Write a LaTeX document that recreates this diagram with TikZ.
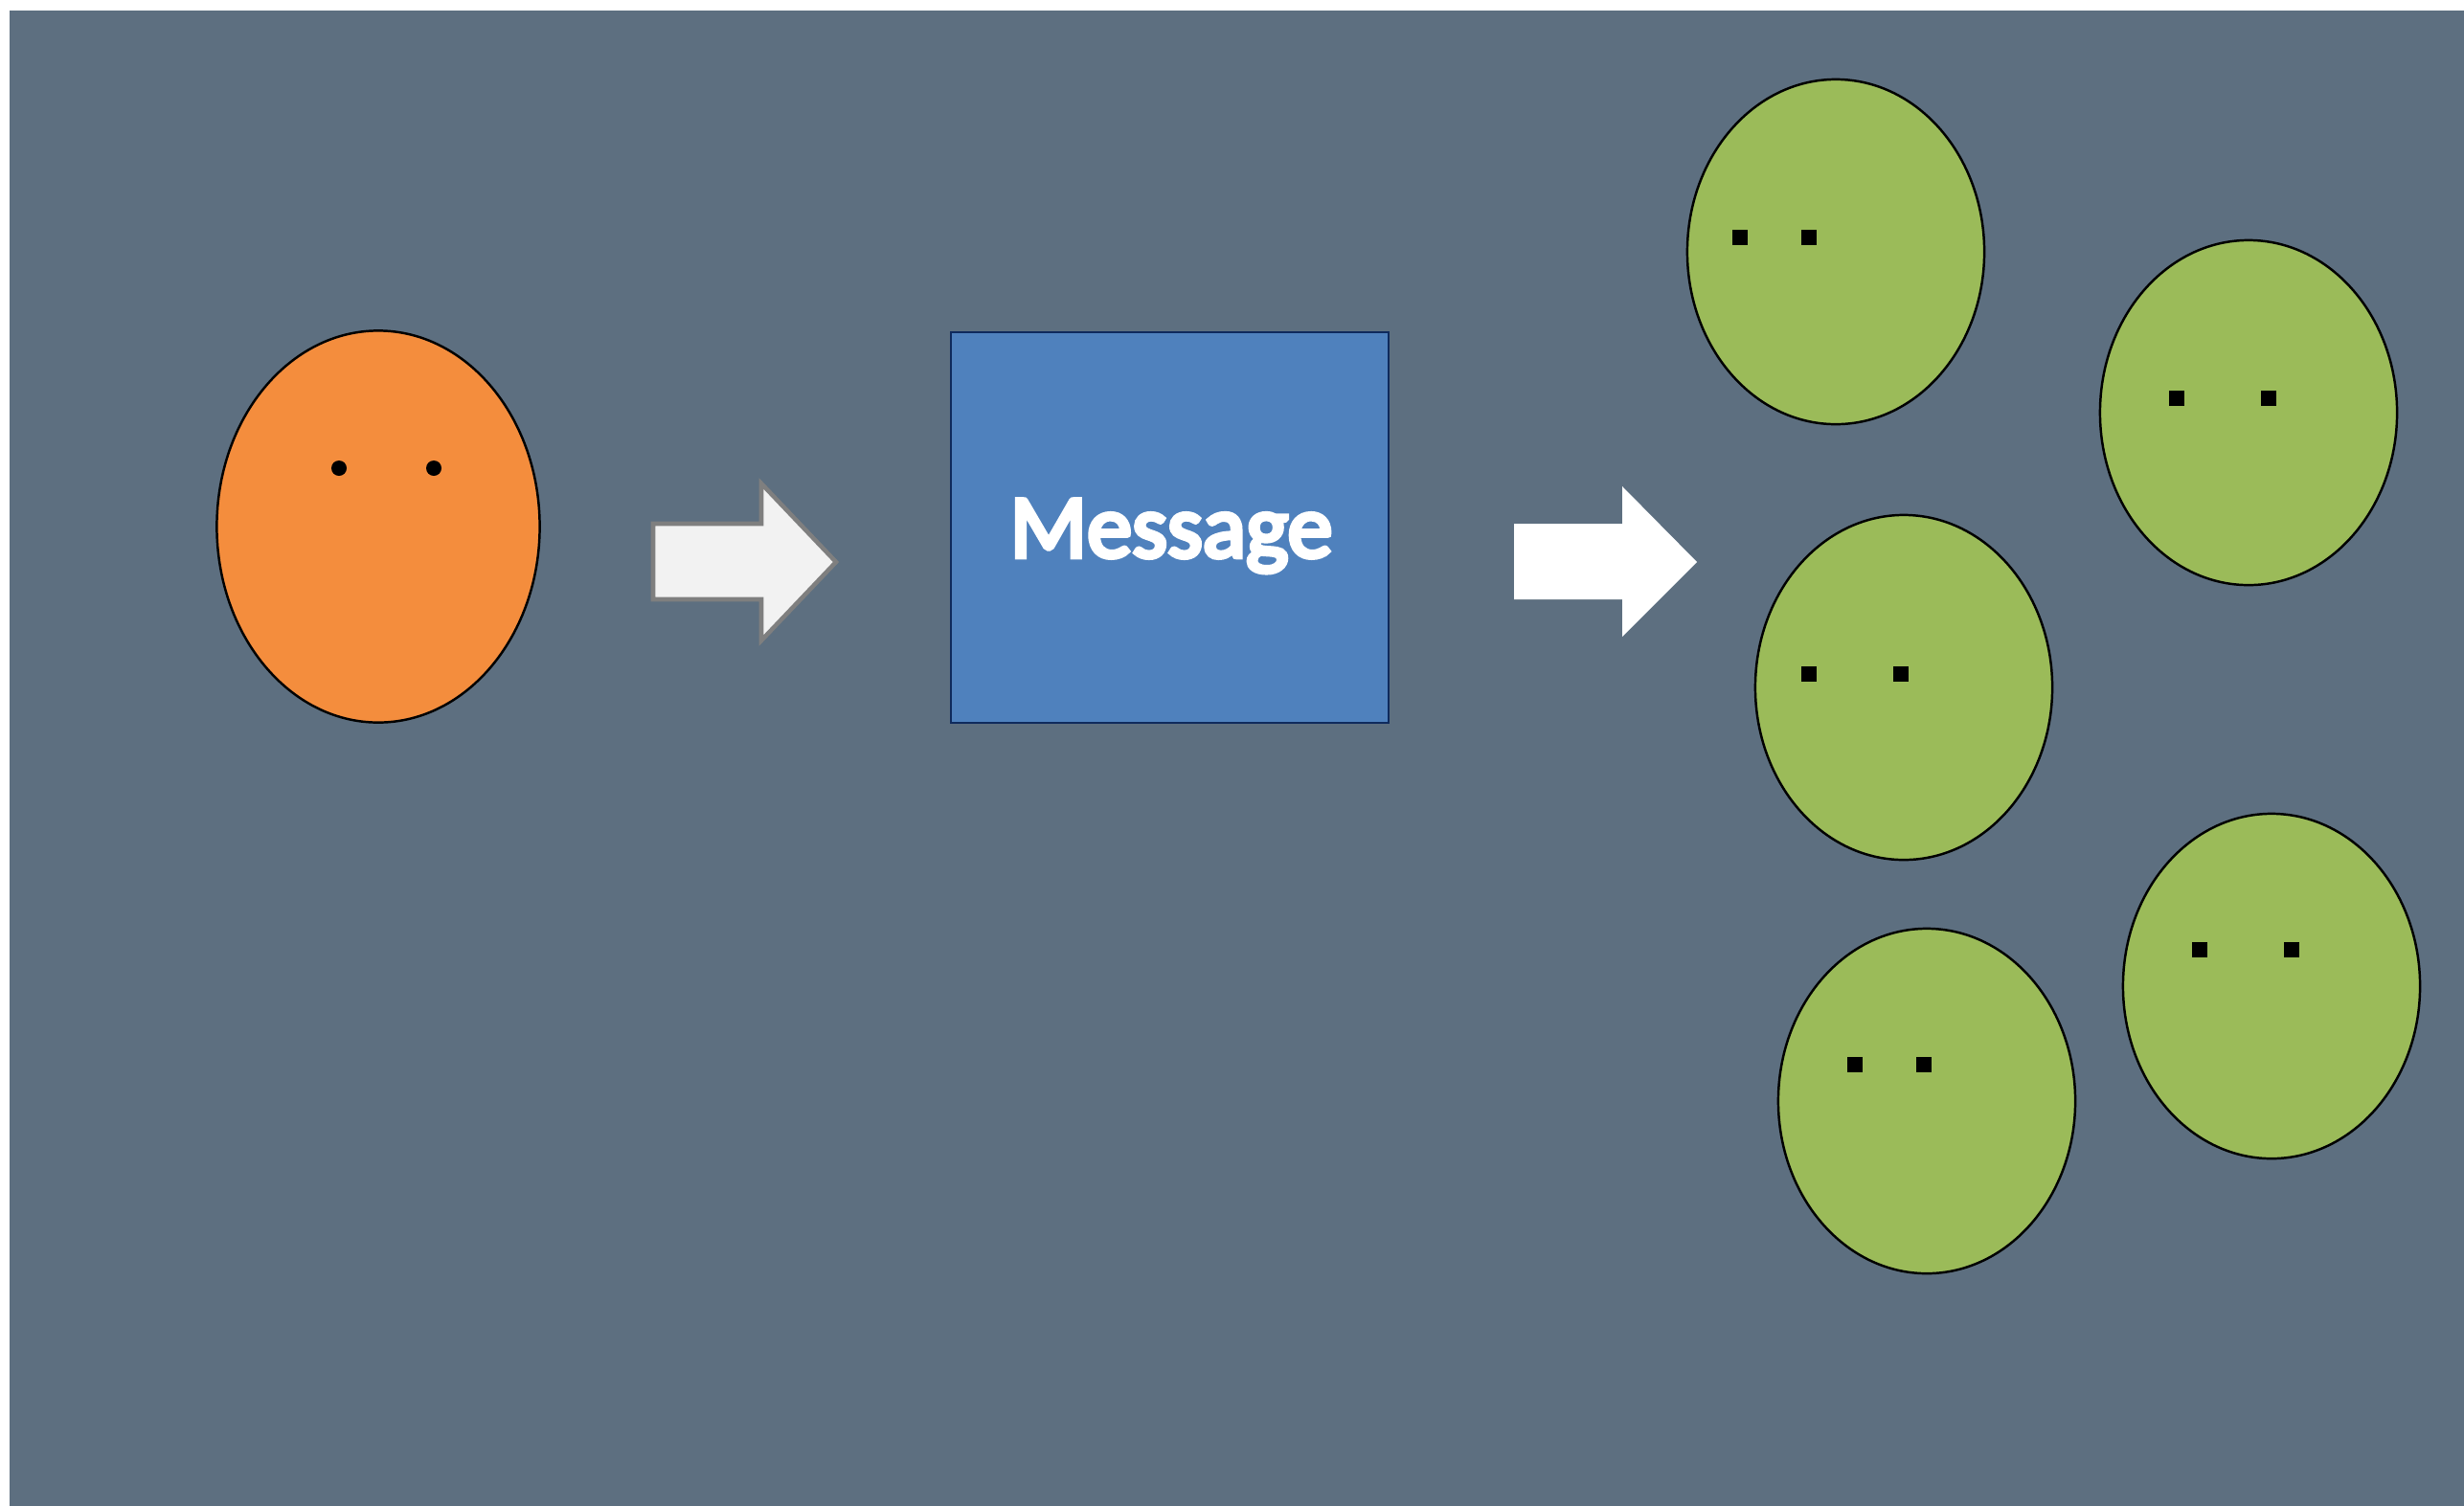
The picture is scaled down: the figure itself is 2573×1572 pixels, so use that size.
\documentclass[tikz,border=0pt]{standalone}
\usepackage{fontspec}
\setmainfont{Carlito}
\newfontfamily\msgfont{Carlito}[FakeBold=5]
\usetikzlibrary{shapes.geometric}
\definecolor{bgc}{HTML}{5D6F80}
\definecolor{orangeface}{HTML}{F48D3D}
\definecolor{greenface}{HTML}{9BBB59}
\definecolor{msgblue}{HTML}{4F81BD}
\definecolor{msgedge}{HTML}{0F2A5C}
\definecolor{arrowfill}{HTML}{F2F2F2}
\definecolor{arrowedge}{HTML}{7F7F7F}
\tikzset{
  face/.style={ellipse, draw=black, line width=0.7pt, inner sep=0pt, minimum width=3.1cm, minimum height=3.6cm, fill=greenface},
  roundeye/.style={circle, fill=black, inner sep=0pt, minimum size=0.16cm},
  squareeye/.style={rectangle, fill=black, inner sep=0pt, minimum size=0.155cm},
}
\begin{document}
\begin{tikzpicture}[x=0.01cm, y=-0.01cm]
\useasboundingbox (0,0) rectangle (2573,1572);
\fill[white] (0,0) rectangle (2573,1572);
\fill[bgc] (10,11) rectangle (2620,1620);

% sender
\node[face, fill=orangeface, minimum width=3.37cm, minimum height=4.09cm] (sender) at (395,550) {};
\node[roundeye] (se1) at (354,489) {};
\node[roundeye] (se2) at (453,489) {};

% arrow 1
\draw[fill=arrowfill, draw=arrowedge, line width=1.3pt, line join=miter]
  (682,547) -- (795,547) -- (795,505) -- (873,587) -- (795,669) -- (795,626) -- (682,626) -- cycle;

% message box
\node[rectangle, draw=msgedge, line width=0.6pt, fill=msgblue, minimum width=4.57cm, minimum height=4.08cm, inner sep=0pt] (msg) at (1221.5,551) {};
\node[anchor=base, text=white, font=\msgfont\fontsize{26.8pt}{30pt}\selectfont, inner sep=0pt] (msgtext) at (1223,582) {Message};

% arrow 2
\fill[white]
  (1581,547) -- (1694,547) -- (1694,508) -- (1772,587) -- (1694,665) -- (1694,626) -- (1581,626) -- cycle;

% receivers
\node[face] (r1) at (1917,263) {};
\node[squareeye] (r1a) at (1817,248) {};
\node[squareeye] (r1b) at (1889,248) {};

\node[face] (r2) at (2348,431) {};
\node[squareeye] (r2a) at (2273,416) {};
\node[squareeye] (r2b) at (2369,416) {};

\node[face] (r3) at (1988,718) {};
\node[squareeye] (r3a) at (1889,704) {};
\node[squareeye] (r3b) at (1985,704) {};

\node[face] (r4) at (2012,1150) {};
\node[squareeye] (r4a) at (1937,1112) {};
\node[squareeye] (r4b) at (2009,1112) {};

\node[face] (r5) at (2372,1030) {};
\node[squareeye] (r5a) at (2297,992) {};
\node[squareeye] (r5b) at (2393,992) {};
\end{tikzpicture}
\end{document}
